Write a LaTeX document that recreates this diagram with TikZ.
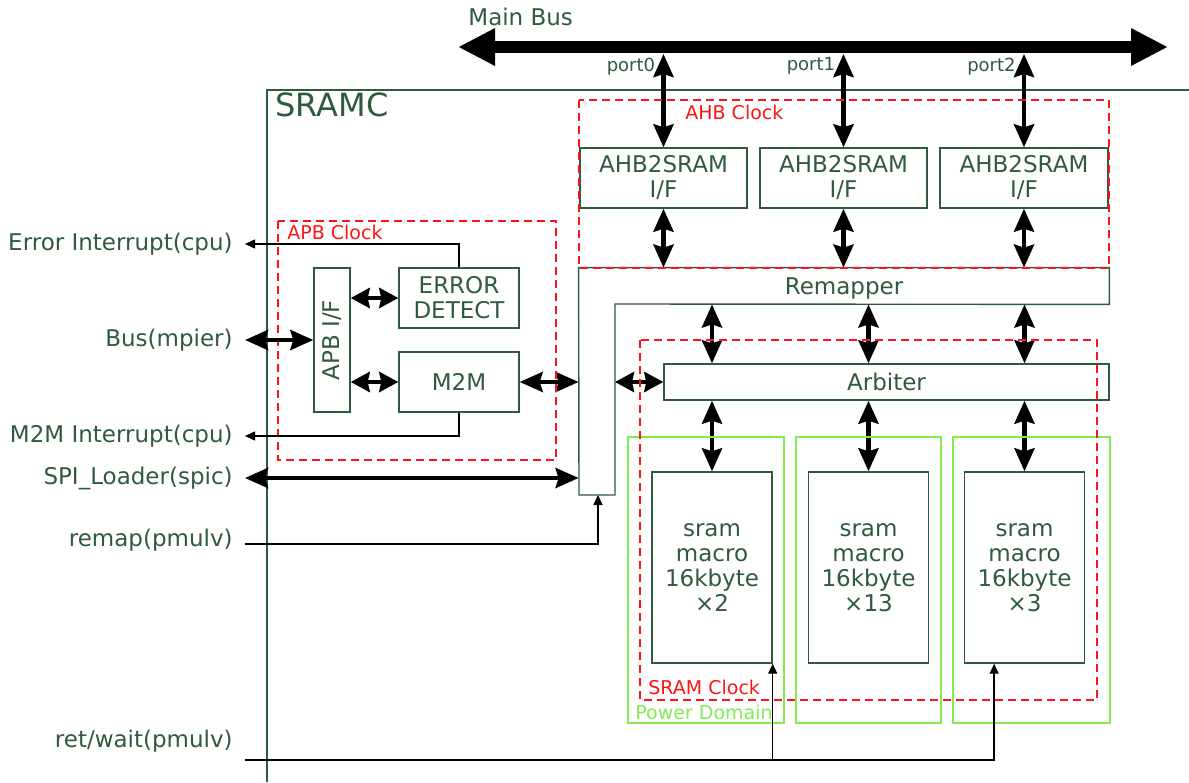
\documentclass[tikz,border=0pt]{standalone}
\usepackage{fontspec}
\usepackage{graphicx}
\setmainfont{DejaVu Sans}
\usetikzlibrary{arrows.meta,positioning,calc}
\definecolor{ink}{HTML}{2F5A3E}
\definecolor{clk}{HTML}{FF1414}
\definecolor{pwr}{HTML}{80EE50}
\newcommand{\mainsize}{\fontsize{11.5}{12.5}\selectfont}
\newcommand{\smallsize}{\fontsize{9.5}{11}\selectfont}
\tikzset{
  block/.style={draw=ink, line width=0.7pt, text=ink, align=center,
                inner sep=0pt, font=\mainsize},
  clkbox/.style={draw=clk, line width=0.6pt, dash pattern=on 4pt off 2.5pt},
  pwrbox/.style={draw=pwr, line width=0.7pt},
  lbl/.style={text=ink, font=\mainsize, anchor=east, inner sep=6pt},
  tag/.style={font=\smallsize, anchor=west, inner sep=0pt},
  bibus/.style={{Stealth[length=11.5pt,width=10pt,inset=1.5pt]}-{Stealth[length=11.5pt,width=10pt,inset=1.5pt]},
                line width=2.2pt},
  shortbus/.style={{Stealth[length=9.5pt,width=10pt,inset=1pt]}-{Stealth[length=9.5pt,width=10pt,inset=1pt]},
                line width=2.2pt},
  sig/.style={-{Triangle[length=5pt,width=4.5pt]}, line width=0.7pt}
}

\begin{document}
\begin{tikzpicture}[x=0.5pt,y=-0.5pt]
  \useasboundingbox (0,0) rectangle (1189,782);

  % SRAMC frame
  \draw[draw=ink, line width=0.7pt] (1189,90) -| (267,782);
  \node[text=ink, font=\fontsize{16}{18}\selectfont, anchor=west, inner sep=0pt] (sramc) at (275,105) {SRAMC};

  % main bus
  \coordinate (busL) at (458,47);
  \coordinate (busR) at (1168,47);
  \coordinate (busbot) at (0,54);
  \draw[line width=6pt, {Triangle[length=18.5pt,width=17.5pt]}-{Triangle[length=18.5pt,width=17.5pt]}] (busL) -- (busR);
  \node[text=ink, font=\mainsize, anchor=west, inner sep=0pt] (mainbus) at (468,17) {Main Bus};

  % AHB side
  \node[block, minimum width=83.5pt, minimum height=30pt] (ahb0) at (663.5,178) {AHB2SRAM\\I/F};
  \node[block, minimum width=83.5pt, minimum height=30pt] (ahb1) at (843.5,178) {AHB2SRAM\\I/F};
  \node[block, minimum width=84pt, minimum height=30pt] (ahb2) at (1024,178) {AHB2SRAM\\I/F};
  \foreach \i in {0,1,2} {
    \draw[bibus] (ahb\i.north |- busbot) -- (ahb\i.north);
    \node[text=ink, font=\fontsize{9}{10}\selectfont, anchor=east, inner sep=1pt] (port\i) at ($(ahb\i.north)+(-6,-81)$) {port\i};
  }

  % remapper (L shape)
  \node[inner sep=0pt, minimum width=265pt, minimum height=18pt] (remap) at (844,286) {};
  \node[text=ink, font=\mainsize, inner sep=0pt] (remaplbl) at ([yshift=-1.5pt]remap.center) {Remapper};
  \coordinate (rminner) at (615,304);
  \coordinate (rmfoot) at (598,495);
  \draw[draw=ink, line width=0.7pt] (remap.north west) -- (remap.north east) -- (remap.south east)
    -- (rminner) -- (615,495) -- (579,495) -- cycle;
  \foreach \i in {0,1,2} {\draw[bibus] (ahb\i.south) -- (ahb\i.south |- remap.north);}

  % arbiter and sram macros
  \node[block, minimum width=222.5pt, minimum height=18pt] (arb) at (886.5,382) {Arbiter};
  \node[block, minimum width=60pt, minimum height=95.5pt] (sram1) at (712,567.5) {sram\\macro\\16kbyte\\×2};
  \node[block, minimum width=60pt, minimum height=95.5pt] (sram2) at (868.5,567.5) {sram\\macro\\16kbyte\\×13};
  \node[block, minimum width=60pt, minimum height=95.5pt] (sram3) at (1024.5,567.5) {sram\\macro\\16kbyte\\×3};
  \foreach \i in {1,2,3} {
    \draw[bibus] (sram\i.north |- remap.south) -- (sram\i.north |- arb.north);
    \draw[bibus] (sram\i.north |- arb.south) -- (sram\i.north);
  }
  \draw[shortbus] (arb.west -| rminner) -- (arb.west);

  % power domains
  \draw[pwrbox] (628,437) rectangle (784,723);
  \draw[pwrbox] (796,437) rectangle (941,723);
  \draw[pwrbox] (953,437) rectangle (1110,723);
  \node[tag, text=pwr] (pwrlbl) at (635,712) {Power Domain};

  % APB side
  \node[block, minimum width=18pt, minimum height=72pt] (apb) at (332,340) {\rotatebox{90}{APB I/F}};
  \node[block, minimum width=60pt, minimum height=30pt] (err) at (459,298) {ERROR\\DETECT};
  \node[block, minimum width=60pt, minimum height=30pt] (m2m) at (459,382) {M2M};
  \draw[shortbus] (apb.east |- err) -- (err.west);
  \draw[shortbus] (apb.east |- m2m) -- (m2m.west);
  \draw[bibus] (m2m.east) -- (m2m.east -| remap.north west);

  % clock domains
  \draw[clkbox] (579,100) rectangle (1109,268);
  \draw[clkbox] (278,221) rectangle (556,460);
  \draw[clkbox] (640,340) rectangle (1097,700);
  \node[tag, text=clk] (ahbclk) at (685,112) {AHB Clock};
  \node[tag, text=clk] (apbclk) at (287,232) {APB Clock};
  \node[tag, text=clk] (sramclk) at (648,687) {SRAM Clock};

  % external signals
  \node[lbl] (lerr) at (245,244) {Error Interrupt(cpu)};
  \node[lbl] (lbus) at (245,340) {Bus(mpier)};
  \node[lbl] (lm2m) at (245,436) {M2M Interrupt(cpu)};
  \node[lbl] (lspi) at (245,478) {SPI\_Loader(spic)};
  \node[lbl] (lremap) at (245,540) {remap(pmulv)};
  \node[lbl] (lret) at (245,741) {ret/wait(pmulv)};
  \coordinate (ret3) at ($(sram3.south west)!0.25!(sram3.south east)$);

  \draw[sig] (err.north) |- (lerr.east);
  \draw[sig] (m2m.south) |- (lm2m.east);
  \draw[bibus] (lbus.east) -- (apb.west);
  \draw[bibus] (lspi.east) -- (lspi.east -| remap.north west);
  \draw[sig] ([yshift=-2pt]lremap.east) -| (rmfoot);
  \draw[sig] ([yshift=-9.5pt]lret.east) -| (sram1.south east);
  \draw[sig] ([yshift=-9.5pt]lret.east) -| (ret3);
\end{tikzpicture}
\end{document}
